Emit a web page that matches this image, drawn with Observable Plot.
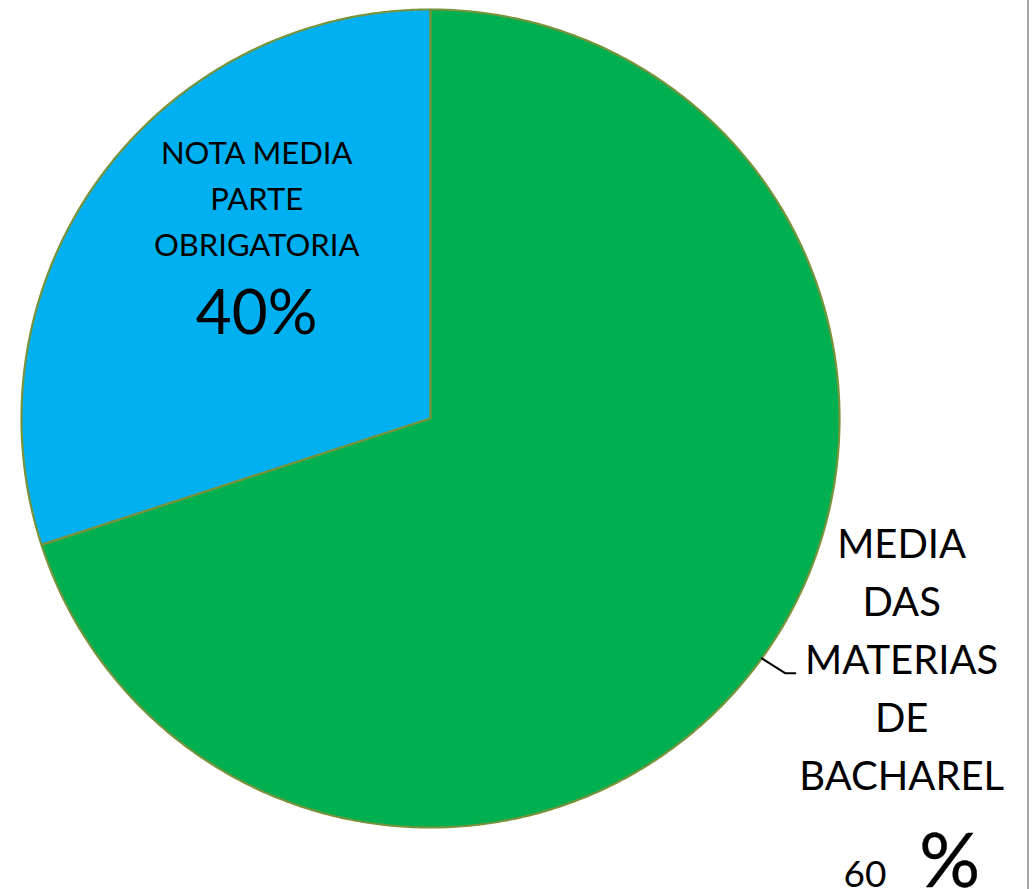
<!DOCTYPE html>
<html>
<head>
<meta charset="utf-8">
<script src="https://cdn.jsdelivr.net/npm/d3@7"></script>
<script src="https://cdn.jsdelivr.net/npm/@observablehq/plot@0.6"></script>
<style>
  html, body { margin: 0; padding: 0; background: #fff; }
  #wrap { position: relative; width: 1033px; height: 889px; overflow: hidden; }
  #edge { position: absolute; left: 1027px; top: 0; width: 2px; height: 889px; background: #a6a6a6; }
</style>
</head>
<body>
<div id="wrap"><div id="chart"></div><div id="edge"></div></div>
<script>
// Data (slice sizes as drawn; labels as printed)
const categories = ["NOTA MEDIA PARTE OBRIGATORIA", "MEDIA DAS MATERIAS DE BACHAREL"];
const values = [30, 70];
const labelTexts = ["NOTA MEDIA\nPARTE\nOBRIGATORIA", "MEDIA\nDAS\nMATERIAS\nDE\nBACHAREL"];
const percentTexts = ["40%", "60"];
const colors = ["#00B0F0", "#00B050"];

const font = "Lato, 'Open Sans', 'Liberation Sans', sans-serif";

const total = d3.sum(values);
const start = -values[0] / total * 2 * Math.PI;
const pie = d3.pie().sort(null).startAngle(start).endAngle(2 * Math.PI + start);
const arcs = pie(values);

function slicePoints(a, i) {
  const pts = [{x: 0, y: 0, k: categories[i]}];
  const n = Math.max(2, Math.ceil((a.endAngle - a.startAngle) / (Math.PI / 360)));
  for (let j = 0; j <= n; j++) {
    const t = a.startAngle + (a.endAngle - a.startAngle) * j / n;
    pts.push({x: Math.sin(t), y: Math.cos(t), k: categories[i]});
  }
  pts.push({x: 0, y: 0, k: categories[i]});
  return pts;
}

const sliceMarks = arcs.map((a, i) =>
  Plot.line(slicePoints(a, i), {x: "x", y: "y", fill: colors[i], stroke: "#77933C", strokeWidth: 2.2, strokeLinejoin: "miter"})
);

// leader line from green slice edge to its label
const edgeA = 125.9 * Math.PI / 180;
const leader = [
  {x: Math.sin(edgeA), y: Math.cos(edgeA)},
  {x: 0.868, y: -0.623},
  {x: 0.892, y: -0.623}
];

const chart = Plot.plot({
  width: 1033,
  height: 889,
  marginLeft: 21,
  marginRight: 194,
  marginTop: 9,
  marginBottom: 62,
  x: {domain: [-1, 1], axis: null},
  y: {domain: [-1, 1], axis: null},
  style: {background: "white", fontFamily: font},
  marks: [
    ...sliceMarks,
    Plot.line(leader, {x: "x", y: "y", stroke: "black", strokeWidth: 2}),
    Plot.text([labelTexts[0]], {x: -0.425, y: 0.3985, text: d => d, fontSize: 31, lineHeight: 1.48, lineAnchor: "bottom", textAnchor: "middle", fill: "black"}),
    Plot.text([percentTexts[0]], {x: -0.425, y: 0.2078, text: d => d, fontSize: 62, lineAnchor: "bottom", textAnchor: "middle", fill: "black"}),
    Plot.text([labelTexts[1]], {x: 1.152, y: -0.9095, text: d => d, fontSize: 40, lineHeight: 1.45, lineAnchor: "bottom", textAnchor: "middle", fill: "black"}),
    Plot.text([percentTexts[1]], {x: 1.115, y: -1.145, text: d => d, fontSize: 37, lineAnchor: "bottom", textAnchor: "end", fill: "black"}),
    Plot.text(["%"], {x: 1.195, y: -1.145, text: d => d, fontSize: 76, lineAnchor: "bottom", textAnchor: "start", fill: "black", stroke: "black", strokeWidth: 0.4})
  ]
});
document.getElementById("chart").appendChild(chart);
</script>
</body>
</html>
